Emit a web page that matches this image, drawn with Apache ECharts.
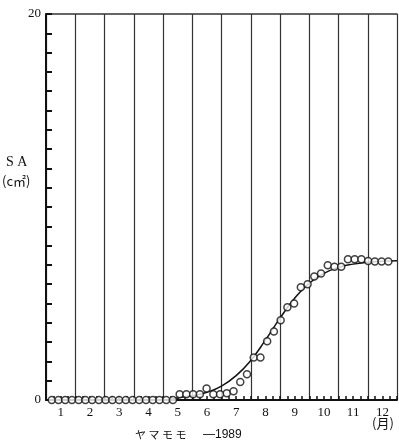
<!DOCTYPE html>
<html>
<head>
<meta charset="utf-8">
<script src="https://cdn.jsdelivr.net/npm/echarts@6/dist/echarts.min.js"></script>
<style>
  html, body { margin: 0; padding: 0; background: #fff; }
  #chart { width: 399px; height: 445px; }
</style>
</head>
<body>
<div id="chart"></div>
<script>
// 月ラベル
var months = ['1', '2', '3', '4', '5', '6', '7', '8', '9', '10', '11', '12'];
// 観測日（年初からの日数、週1回）
var obsDays = [6, 13, 20, 27, 34, 41, 48, 55, 62, 69, 76, 83, 90, 97, 104, 111, 118, 125, 132,
  139, 146, 153, 160, 167, 174, 181, 188, 195, 202, 209, 216, 223, 230, 237, 244, 251, 258,
  265, 272, 279, 286, 293, 300, 307, 314, 321, 328, 335, 342, 349, 356];
// SA 実測値 (cm2)
var obsSA = [0, 0, 0, 0, 0, 0, 0, 0, 0, 0, 0, 0, 0, 0, 0, 0, 0, 0, 0,
  0.3, 0.3, 0.3, 0.3, 0.6, 0.3, 0.3, 0.35, 0.45, 0.93, 1.34, 2.2, 2.2, 3.05, 3.55, 4.13,
  4.8, 5.0, 5.84, 6.0, 6.4, 6.56, 6.98, 6.9, 6.9, 7.29, 7.29, 7.29, 7.2, 7.18, 7.18, 7.18];
// 当てはめ曲線（月, SA）
var fitMonth = [4.3, 4.5, 5.0, 5.5, 6.0, 6.5, 7.0, 7.5, 8.0, 8.5, 9.0, 9.5, 10.0, 10.5, 11.0, 11.5, 12.0];
var fitSA = [0.02, 0.12, 0.22, 0.4, 0.72, 1.26, 2.05, 3.1, 4.24, 5.27, 6.05, 6.56, 6.87, 7.04, 7.14, 7.19, 7.22];

var obsData = obsDays.map(function (d, i) { return [d * 12 / 365, obsSA[i]]; });
var fitData = fitMonth.map(function (m, i) { return [m, fitSA[i]]; });

var numFont = '"Liberation Serif", serif';
var myChart = echarts.init(document.getElementById('chart'));
var option = {
  animation: false,
  grid: { left: 46, top: 14, right: 2, bottom: 45 },
  xAxis: [
    {
      type: 'value', min: 0, max: 12, interval: 1, position: 'bottom',
      axisLine: { show: true, lineStyle: { color: '#111', width: 2 } },
      axisTick: { show: true, inside: true, length: 4, lineStyle: { color: '#111', width: 1.5 } },
      minorTick: { show: true, splitNumber: 4, length: 4, lineStyle: { color: '#111', width: 1.5 } },
      axisLabel: { show: false },
      splitLine: { show: true, lineStyle: { color: '#333', width: 1.2 } }
    },
    {
      type: 'category', data: months, position: 'bottom', boundaryGap: true,
      axisLine: { show: false }, axisTick: { show: false },
      axisLabel: { margin: 6, color: '#111', fontSize: 13, fontFamily: numFont, interval: 0 }
    },
    {
      type: 'value', min: 0, max: 12, position: 'top',
      axisLine: { show: true, lineStyle: { color: '#333', width: 1.5 } },
      axisTick: { show: false }, axisLabel: { show: false }, splitLine: { show: false }
    }
  ],
  yAxis: {
    type: 'value', min: 0, max: 20, interval: 1,
    axisLine: { show: true, lineStyle: { color: '#111', width: 2 } },
    axisTick: { show: true, inside: true, length: 6, lineStyle: { color: '#111', width: 2 } },
    axisLabel: {
      margin: 5, color: '#111', fontSize: 13, fontFamily: numFont,
      formatter: function (v) { return (v === 0 || v === 20) ? String(v) : ''; }
    },
    splitLine: { show: false }
  },
  graphic: [
    { type: 'text', left: 6, top: 155, style: { text: 'S A', fontSize: 14, fontFamily: numFont, fill: '#111' } },
    { type: 'text', left: 2, top: 175, style: { text: '(c㎡)', fontSize: 13, fontFamily: '"Noto Sans CJK JP"', fill: '#111' } },
    { type: 'text', left: 372, top: 417, style: { text: '(月)', fontSize: 13, fontFamily: '"Noto Sans CJK JP"', fill: '#111' } },
    { type: 'text', left: 135, top: 429, style: { text: 'ヤ マ モ モ', fontSize: 11, fontFamily: '"Noto Sans CJK JP"', fill: '#111' } },
    { type: 'text', left: 203, top: 429, style: { text: '—1989', fontSize: 12, fontFamily: '"Liberation Sans", sans-serif', fill: '#111' } }
  ],
  series: [
    {
      type: 'line', xAxisIndex: 0, data: fitData, smooth: true, showSymbol: false,
      lineStyle: { color: '#111', width: 1.5 }, z: 3
    },
    {
      type: 'scatter', xAxisIndex: 0, data: obsData, symbol: 'circle', symbolSize: 7,
      itemStyle: { color: '#fff', borderColor: '#111', borderWidth: 1.5 }, z: 4
    }
  ]
};
myChart.setOption(option);
</script>
</body>
</html>
